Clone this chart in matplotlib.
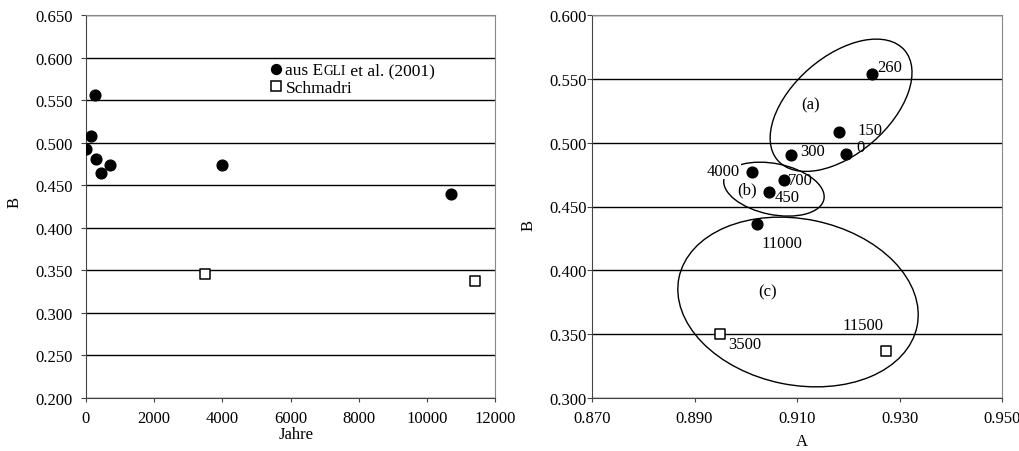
import matplotlib
matplotlib.use("Agg")
import matplotlib.pyplot as plt
from matplotlib.patches import Ellipse
from matplotlib.lines import Line2D
from matplotlib.offsetbox import (AnchoredOffsetbox, HPacker, VPacker,
                                  TextArea, DrawingArea)
import matplotlib.transforms as mtransforms

plt.rcParams['font.family'] = ['Liberation Serif', 'DejaVu Serif']
FS = 12
LFS = 12.5

# ---------------- data: left panel (B vs. Jahre) ----------------
years_egli = [0, 150, 260, 300, 450, 700, 4000, 10700]
B_egli_years = [0.493, 0.508, 0.556, 0.481, 0.464, 0.474, 0.474, 0.440]
years_schm = [3500, 11400]
B_schm_years = [0.346, 0.337]

# ---------------- data: right panel (B vs. A) ----------------
A_egli = [0.9195, 0.9182, 0.9246, 0.9088, 0.9046, 0.9075, 0.9013, 0.9022]
B_egli = [0.491, 0.508, 0.554, 0.490, 0.461, 0.471, 0.477, 0.4365]
labels_egli = ['0', '150', '260', '300', '450', '700', '4000', '11000']
A_schm = [0.8949, 0.9273]
B_schm = [0.3498, 0.3368]
labels_schm = ['3500', '11500']

# label offsets (points) for point labels
off_egli = [(8, 5), (13, 2), (4, 5), (7, 3), (4, -3), (3, 0), (-9, 1), (3, -14)]
ha_egli = ['left', 'left', 'left', 'left', 'left', 'left', 'right', 'left']
off_schm = [(6, -7), (-31, 19)]

# groups: (label, text x, text y, centre x, centre y, width px, height px, angle)
groups = [
    ('(a)', 0.9127, 0.5301, 0.9186, 0.5293, 168, 97, 41),
    ('(b)', 0.9002, 0.4636, 0.9055, 0.4636, 102, 51, -11.5),
    ('(c)', 0.9043, 0.3833, 0.9102, 0.3752, 243, 166, -11.5),
]

fig = plt.figure(figsize=(10.2, 4.52), dpi=100)
ax1 = fig.add_axes([86 / 1020, 53 / 452, 409 / 1020, 383 / 452])
ax2 = fig.add_axes([592 / 1020, 53 / 452, 410 / 1020, 383 / 452])


def style(ax, ypad):
    for s in ax.spines.values():
        s.set_color('#888888')
        s.set_linewidth(0.8)
    ax.spines['left'].set_color('#444444')
    ax.spines['bottom'].set_color('#444444')
    ax.grid(axis='y', color='black', linewidth=1.0)
    ax.set_axisbelow(True)
    ax.tick_params(axis='y', direction='out', length=3.5, width=0.8,
                   color='#444444', pad=ypad, labelsize=FS)
    ax.tick_params(axis='x', direction='out', length=3, width=0.8,
                   color='#444444', pad=6, labelsize=FS)
    ax.yaxis.set_major_formatter(matplotlib.ticker.FormatStrFormatter('%.3f'))


# ---------------- left panel ----------------
ax1.scatter(years_egli, B_egli_years, s=60, color='black', zorder=3)
ax1.scatter(years_schm, B_schm_years, s=48, marker='s', facecolor='white',
            edgecolor='black', linewidth=1.1, zorder=3)
ax1.set_xlim(0, 12000)
ax1.set_ylim(0.2, 0.65)
ax1.set_xticks(range(0, 12001, 2000))
ax1.set_yticks([0.2 + 0.05 * i for i in range(10)])
style(ax1, 6)
ax1.set_xlabel('Jahre', fontsize=FS)
ax1.set_ylabel('B', fontsize=FS)
ax1.xaxis.set_label_coords(0.513, -0.094)
ax1.xaxis.label.set_va('center')
ax1.yaxis.set_label_coords(-0.176, 0.512)
ax1.yaxis.label.set_va('center')
ax1.yaxis.label.set_ha('center')


def marker_box(marker, face):
    da = DrawingArea(12, 10, 0, 0)
    da.add_artist(Line2D([5], [4], marker=marker,
                         markersize=7 if marker == 'o' else 6.5,
                         markerfacecolor=face, markeredgecolor='black',
                         markeredgewidth=1.1, linestyle='none'))
    return da


row1 = HPacker(children=[marker_box('o', 'black'),
                         TextArea('aus E', textprops=dict(size=LFS)),
                         TextArea('GLI', textprops=dict(size=LFS * 0.78)),
                         TextArea(' et al. (2001)', textprops=dict(size=LFS))],
               align='baseline', pad=0, sep=0)
row2 = HPacker(children=[marker_box('s', 'white'),
                         TextArea('Schmadri', textprops=dict(size=LFS))],
               align='baseline', pad=0, sep=0)
leg = VPacker(children=[row1, row2], align='left', pad=0, sep=0)
anchored = AnchoredOffsetbox(loc='upper left', child=leg, pad=0, frameon=False,
                             bbox_to_anchor=(0.447, 0.882),
                             bbox_transform=ax1.transAxes, borderpad=0)
ax1.add_artist(anchored)

# ---------------- right panel ----------------
ax2.scatter(A_egli, B_egli, s=60, color='black', zorder=3)
ax2.scatter(A_schm, B_schm, s=48, marker='s', facecolor='white',
            edgecolor='black', linewidth=1.1, zorder=3)
ax2.set_xlim(0.87, 0.95)
ax2.set_ylim(0.3, 0.6)
ax2.set_xticks([0.87, 0.89, 0.91, 0.93, 0.95])
ax2.set_yticks([0.3 + 0.05 * i for i in range(7)])
style(ax2, 0.5)
ax2.xaxis.set_major_formatter(matplotlib.ticker.FormatStrFormatter('%.3f'))
ax2.set_xlabel('A', fontsize=FS)
ax2.set_ylabel('B', fontsize=FS)
ax2.xaxis.set_label_coords(0.512, -0.112)
ax2.xaxis.label.set_va('center')
ax2.yaxis.set_label_coords(-0.154, 0.452)
ax2.yaxis.label.set_va('center')
ax2.yaxis.label.set_ha('center')

for (lab, tx, ty, cx, cy, w, h, ang) in groups:
    trans = fig.dpi_scale_trans + mtransforms.ScaledTranslation(cx, cy, ax2.transData)
    ax2.add_patch(Ellipse((0, 0), w / 100, h / 100, angle=ang, fill=False,
                          edgecolor='black', linewidth=1.0, transform=trans,
                          zorder=2, clip_on=False))
    ax2.text(tx, ty, lab, fontsize=FS, ha='center', va='center', zorder=4)

for x, y, lab, off, ha in zip(A_egli, B_egli, labels_egli, off_egli, ha_egli):
    bb = dict(facecolor='white', edgecolor='none', pad=0.5) if lab == '4000' else None
    ax2.annotate(lab, (x, y), xytext=off, textcoords='offset points',
                 fontsize=FS, ha=ha, va='center', zorder=4, bbox=bb)
for x, y, lab, off in zip(A_schm, B_schm, labels_schm, off_schm):
    ax2.annotate(lab, (x, y), xytext=off, textcoords='offset points',
                 fontsize=FS, ha='left', va='center', zorder=4)

fig.savefig('out.png', dpi=100)
